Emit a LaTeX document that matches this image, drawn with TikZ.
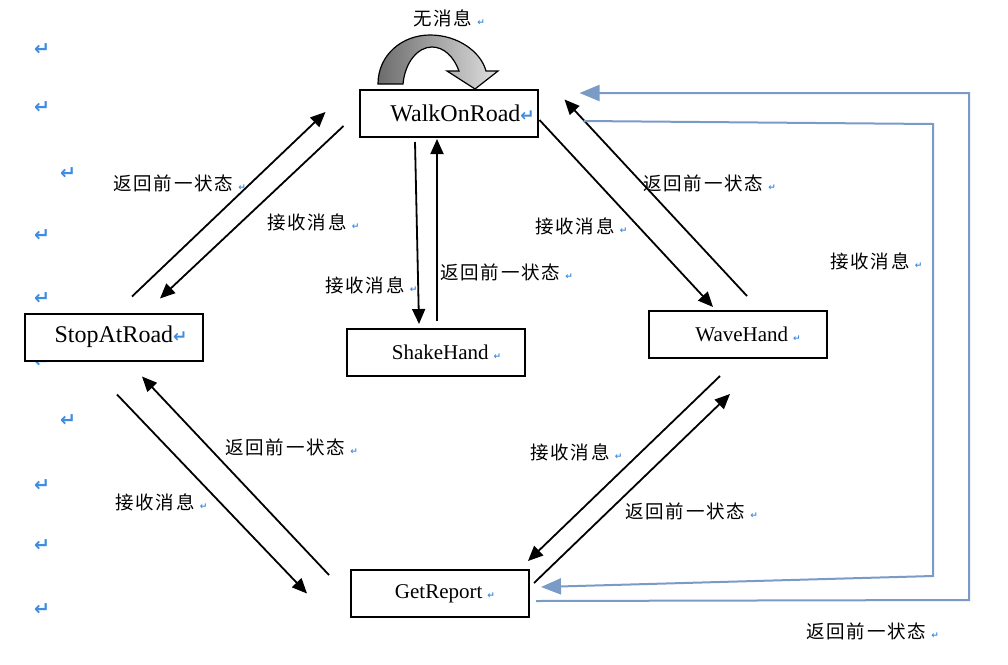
\documentclass[tikz,border=0pt]{standalone}
\usepackage{fontspec}
\setmainfont{Liberation Serif}
\newfontfamily\cjk{Noto Sans CJK SC}
\newfontfamily\symfont{DejaVu Sans}
\usetikzlibrary{arrows.meta,positioning,calc}
\definecolor{MarkBlue}{HTML}{3F8CE0}
\definecolor{LineBlue}{HTML}{7A9BC6}
\newcommand{\retmark}{{\symfont\bfseries\color{MarkBlue}\fontsize{17}{17}\selectfont ↵}}
\newcommand{\tinymark}{\hspace{5pt}{\symfont\bfseries\color{MarkBlue}\fontsize{9}{9}\selectfont ↵}}
\tikzset{
    state/.style = {draw, rectangle, line width=2pt, fill=white,
        minimum width=178pt, minimum height=47pt, inner sep=0pt},
    arrow/.style = {draw, line width=1.8pt, -{Triangle[length=15pt,width=13pt]}},
    backline/.style = {draw, LineBlue, line width=2pt, -{Triangle[length=20pt,width=16pt]}},
    lbl/.style = {anchor=west, inner sep=0pt,
        font=\cjk\fontsize{18.5}{18.5}\selectfont\addfontfeature{LetterSpace=10}},
    margin/.style = {font=\symfont\bfseries\fontsize{19}{19}\selectfont, text=MarkBlue, inner sep=0pt}
}

\begin{document}
\begin{tikzpicture}[x=1pt,y=-1pt]
  \useasboundingbox (0,0) rectangle (1008,664);
  % formatting marks on the left
  \foreach \mx/\my in {42/50,42/108,68/174,42/236,42/299,42/362,68/421,42/486,42/546,42/610}{
    \node[margin] at (\mx,\my) {↵};
  };
  % states
  \node[state, font=\fontsize{24}{24}\selectfont] (walk) at (448.5,113.5) {\hspace{28pt}WalkOnRoad\retmark};
  \node[state, font=\fontsize{24}{24}\selectfont] (stop) at (114,337) {\hspace{14pt}StopAtRoad\retmark};
  \node[state, font=\fontsize{21}{21}\selectfont] (shake) at (435.5,352.5) {\hspace{22pt}ShakeHand\tinymark};
  \node[state, font=\fontsize{21}{21}\selectfont] (wave) at (738,334.5) {\hspace{20pt}WaveHand\tinymark};
  \node[state, font=\fontsize{21}{21}\selectfont] (report) at (440,593.5) {\hspace{10pt}GetReport\tinymark};
  % self loop
  \draw[line width=1.2pt, left color=gray!85!black, right color=gray!25]
    (378,84) .. controls (378,55) and (402,35) .. (430,35)
    .. controls (458,35) and (481,52) .. (486,71)
    -- (498,71) -- (475,89) -- (447,71) -- (459,71)
    .. controls (454,57) and (444,47) .. (432,47)
    .. controls (418,47) and (405,62) .. (403,84) -- cycle;
  \node[lbl] (lnone) at (413,18) {无消息\tinymark};
  % walk <-> stop
  \draw[arrow] ([shift={(18,-16)}]stop.north) -- ([shift={(-33,-1.5)}]walk.west);
  \draw[arrow] ([shift={(-15,12.5)}]walk.west) -- ([shift={(46,-14)}]stop.north);
  \node[lbl] (lretl) at (113,183) {返回前一状态\tinymark};
  \node[lbl] (lrecl) at (267,222) {接收消息\tinymark};
  % walk <-> shake
  \draw[arrow] ([shift={(-33.5,4)}]walk.south) -- ([shift={(-16.5,-4)}]shake.north);
  \draw[arrow] ([shift={(1.5,-7)}]shake.north) -- ([shift={(-11.5,1)}]walk.south);
  \node[lbl] (lrecs) at (325,285) {接收消息\tinymark};
  \node[lbl] (lrets) at (440,272) {返回前一状态\tinymark};
  % walk <-> wave
  \draw[arrow] ([shift={(1,6.5)}]walk.east) -- ([shift={(-25,-3)}]wave.north);
  \draw[arrow] ([shift={(9,-14)}]wave.north) -- ([shift={(26,-14)}]walk.east);
  \node[lbl] (lrecw) at (535,226) {接收消息\tinymark};
  \node[lbl] (lretw) at (643,183) {返回前一状态\tinymark};
  % stop <-> report
  \draw[arrow] ([shift={(3,33)}]stop.south) -- ([shift={(-43,0)}]report.west);
  \draw[arrow] ([shift={(-21,-18.5)}]report.west) -- ([shift={(28,15)}]stop.south);
  \node[lbl] (lretsr) at (225,447) {返回前一状态\tinymark};
  \node[lbl] (lrecsr) at (115,502) {接收消息\tinymark};
  % wave <-> report
  \draw[arrow] ([shift={(-18,17)}]wave.south) -- ([shift={(88,-8)}]report.north);
  \draw[arrow] ([shift={(4,-10.5)}]report.east) -- ([shift={(-8,35)}]wave.south);
  \node[lbl] (lrecwr) at (530,452) {接收消息\tinymark};
  \node[lbl] (lretwr) at (625,511) {返回前一状态\tinymark};
  % walk <-> report, outside
  \coordinate (ob1) at (969,600);
  \coordinate (ob2) at (969,93);
  \coordinate (ib1) at (933,124);
  \coordinate (ib2) at (933,576);
  \draw[backline] ([shift={(6,7.5)}]report.east) -- (ob1) -- (ob2) -- ([shift={(41,-20.5)}]walk.east);
  \draw[backline] ([shift={(45,7.5)}]walk.east) -- (ib1) -- (ib2) -- ([shift={(11,-6.5)}]report.east);
  \node[lbl] (lrecb) at (830,261) {接收消息\tinymark};
  \node[lbl] (lretb) at (806,631) {返回前一状态\tinymark};
\end{tikzpicture}
\end{document}
